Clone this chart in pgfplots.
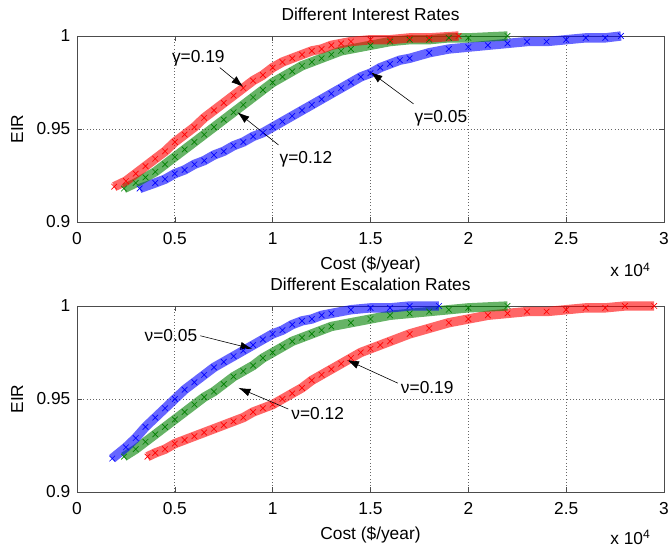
\documentclass[border=0pt]{standalone}
\usepackage{pgfplots}
\pgfplotsset{compat=1.18}
\usepackage{fontspec}
\setmainfont{Liberation Sans}
\usetikzlibrary{arrows.meta}

\definecolor{mred}{rgb}{1,0,0}
\definecolor{mgreen}{rgb}{0,0.5,0}
\definecolor{mblue}{rgb}{0,0,1}

\newcommand{\fs}{\fontsize{13}{15}\selectfont}
\tikzset{
  note/.style={font=\fs, inner sep=1pt},
  arr/.style={-{Latex[length=9pt,width=6pt]}, line width=0.45pt, black},
}
\pgfplotsset{
  eirstyle/.style={
    scale only axis, width=440.25pt, height=139.5pt,
    xmin=0, xmax=3, ymin=0.9, ymax=1,
    xtick={0,0.5,1,1.5,2,2.5,3},
    xticklabels={0,0.5,1,1.5,2,2.5,3},
    ytick={0.9,0.95,1},
    yticklabels={0.9,0.95,1},
    tick align=inside, major tick length=4pt,
    tick style={black!70, line width=0.4pt},
    axis line style={black!70, line width=0.5pt},
    grid=major, grid style={black!60, dotted, line width=0.6pt},
    /pgf/number format/assume math mode=true,
    tick label style={font=\fs},
    label style={font=\fs},
    title style={font=\fs, at={(axis description cs:0.5,1.075)}, anchor=center},
    xlabel={Cost (\$/year)},
    ylabel={EIR},
    xticklabel style={anchor=center, yshift=-12.4pt},
    yticklabel style={anchor=east, xshift=-1.5pt},
    xlabel style={at={(axis description cs:0.5,-0.228)}, anchor=center},
    ylabel style={at={(axis description cs:-0.102,0.5)}, anchor=center},
    clip=false,
  },
  band/.style={#1, line width=7pt, opacity=0.6, no marks},
  pts/.style={#1, only marks, mark=x, mark size=3pt, mark options={line width=0.5pt}},
}

% Top plot: Different Interest Rates
\pgfplotstableread{
x y
0.19 0.919
0.25 0.922
0.30 0.926
0.35 0.930
0.40 0.934
0.45 0.938
0.50 0.943
0.55 0.947
0.60 0.951
0.65 0.956
0.70 0.960
0.75 0.964
0.80 0.968
0.85 0.972
0.90 0.976
0.95 0.979
1.00 0.983
1.05 0.986
1.10 0.988
1.15 0.990
1.20 0.992
1.25 0.993
1.30 0.995
1.35 0.996
1.40 0.997
1.50 0.998
1.60 0.998
1.70 0.999
1.80 0.999
1.95 1.000
}\tRed
\pgfplotstableread{
x y
0.24 0.918
0.30 0.921
0.35 0.924
0.40 0.927
0.45 0.931
0.50 0.935
0.55 0.939
0.60 0.943
0.65 0.947
0.70 0.951
0.75 0.955
0.80 0.959
0.85 0.963
0.90 0.967
0.95 0.971
1.00 0.975
1.05 0.978
1.10 0.981
1.15 0.984
1.20 0.986
1.25 0.988
1.30 0.990
1.35 0.992
1.40 0.993
1.50 0.995
1.60 0.997
1.70 0.998
1.80 0.998
1.90 0.999
2.00 0.999
2.20 1.000
}\tGreen
\pgfplotstableread{
x y
0.32 0.918
0.40 0.921
0.45 0.923
0.50 0.926
0.55 0.928
0.60 0.931
0.65 0.933
0.70 0.936
0.75 0.938
0.80 0.941
0.85 0.943
0.90 0.946
0.95 0.948
1.00 0.951
1.05 0.954
1.10 0.957
1.15 0.960
1.20 0.963
1.25 0.966
1.30 0.969
1.35 0.972
1.40 0.975
1.45 0.978
1.50 0.980
1.55 0.983
1.60 0.985
1.65 0.987
1.70 0.988
1.80 0.991
1.90 0.993
2.00 0.994
2.10 0.995
2.20 0.996
2.30 0.997
2.40 0.997
2.50 0.998
2.60 0.999
2.70 0.999
2.78 1.000
}\tBlue

% Bottom plot: Different Escalation Rates
\pgfplotstableread{
x y
0.18 0.918
0.25 0.924
0.30 0.929
0.35 0.935
0.40 0.940
0.45 0.945
0.50 0.950
0.55 0.955
0.60 0.959
0.65 0.963
0.70 0.967
0.75 0.970
0.80 0.973
0.85 0.976
0.90 0.979
0.95 0.982
1.00 0.985
1.05 0.987
1.10 0.990
1.15 0.992
1.20 0.993
1.25 0.995
1.30 0.996
1.40 0.998
1.50 0.999
1.60 0.999
1.70 1.000
1.85 1.000
}\bBlue
\pgfplotstableread{
x y
0.24 0.919
0.30 0.923
0.35 0.927
0.40 0.931
0.45 0.935
0.50 0.939
0.55 0.943
0.60 0.947
0.65 0.951
0.70 0.954
0.75 0.958
0.80 0.962
0.85 0.965
0.90 0.968
0.95 0.972
1.00 0.975
1.05 0.978
1.10 0.981
1.15 0.983
1.20 0.985
1.25 0.987
1.30 0.989
1.40 0.991
1.50 0.993
1.60 0.995
1.70 0.996
1.80 0.997
1.90 0.998
2.00 0.999
2.20 1.000
}\bGreen
\pgfplotstableread{
x y
0.36 0.919
0.40 0.921
0.45 0.923
0.50 0.926
0.55 0.928
0.60 0.930
0.65 0.932
0.70 0.934
0.75 0.936
0.80 0.938
0.85 0.940
0.90 0.943
0.95 0.945
1.00 0.947
1.05 0.950
1.10 0.953
1.15 0.956
1.20 0.960
1.25 0.963
1.30 0.966
1.35 0.969
1.40 0.972
1.45 0.975
1.50 0.977
1.55 0.979
1.60 0.981
1.70 0.985
1.80 0.988
1.90 0.991
2.00 0.993
2.10 0.995
2.20 0.996
2.30 0.997
2.40 0.997
2.50 0.998
2.60 0.999
2.70 0.999
2.80 1.000
2.95 1.000
}\bRed

\begin{document}
\begin{tikzpicture}
\useasboundingbox (0,0) rectangle (501.75pt,-411pt);

\begin{axis}[eirstyle, at={(57.75pt,-166.5pt)}, anchor=south west,
  title={Different Interest Rates}]
  \addplot[band=mblue] table {\tBlue};
  \addplot[pts=mblue] table {\tBlue};
  \addplot[band=mgreen] table {\tGreen};
  \addplot[pts=mgreen] table {\tGreen};
  \addplot[band=mred] table {\tRed};
  \addplot[pts=mred] table {\tRed};
  \node[note] at (axis cs:0.62,0.988) {γ=0.19};
  \draw[arr] (axis cs:0.73,0.983) -- (axis cs:0.85,0.9726);
  \node[note] at (axis cs:1.17,0.934) {γ=0.12};
  \draw[arr] (axis cs:1.03,0.9414) -- (axis cs:0.82,0.959);
  \node[note] at (axis cs:1.86,0.956) {γ=0.05};
  \draw[arr] (axis cs:1.72,0.9635) -- (axis cs:1.50,0.9806);
  \node[font=\fs, anchor=east] at (rel axis cs:0.985,-0.258) {x 10\textsuperscript{4}};
\end{axis}

\begin{axis}[eirstyle, at={(57.75pt,-369pt)}, anchor=south west,
  title={Different Escalation Rates}]
  \addplot[band=mred] table {\bRed};
  \addplot[pts=mred] table {\bRed};
  \addplot[band=mgreen] table {\bGreen};
  \addplot[pts=mgreen] table {\bGreen};
  \addplot[band=mblue] table {\bBlue};
  \addplot[pts=mblue] table {\bBlue};
  \node[note] at (axis cs:0.48,0.984) {ν=0.05};
  \draw[arr] (axis cs:0.63,0.984) -- (axis cs:0.896,0.977);
  \node[note] at (axis cs:1.23,0.942) {ν=0.12};
  \draw[arr] (axis cs:1.08,0.9446) -- (axis cs:0.825,0.956);
  \node[note] at (axis cs:1.79,0.956) {ν=0.19};
  \draw[arr] (axis cs:1.64,0.9585) -- (axis cs:1.38,0.971);
  \node[font=\fs, anchor=east] at (rel axis cs:0.985,-0.243) {x 10\textsuperscript{4}};
\end{axis}
\end{tikzpicture}
\end{document}
